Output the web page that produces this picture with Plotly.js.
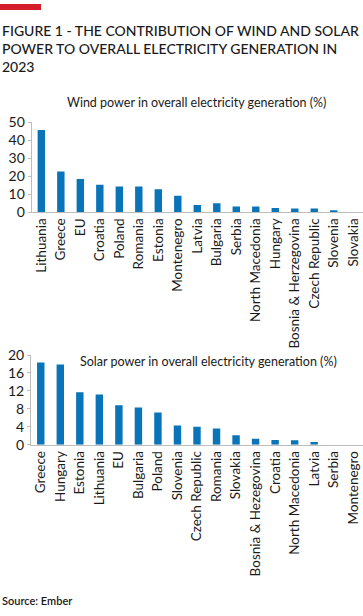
<!DOCTYPE html>
<html>
<head>
<meta charset="utf-8">
<script src="https://cdn.plot.ly/plotly-3.0.1.min.js"></script>
<style>
html,body{margin:0;padding:0;background:#fff;}
#chart{width:363px;height:616px;}
</style>
</head>
<body>
<div id="chart"></div>
<script>
const windCountries = ["Lithuania","Greece","EU","Croatia","Poland","Romania","Estonia","Montenegro","Latvia","Bulgaria","Serbia","North Macedonia","Hungary","Bosnia & Herzegovina","Czech Republic","Slovenia","Slovakia"];
const windValues = [45.5, 22.5, 18.4, 15.2, 14.2, 14.2, 12.6, 9.0, 3.9, 4.8, 3.1, 3.1, 2.2, 1.9, 1.9, 1.0, 0];
const windTicks = [0, 10, 20, 30, 40, 50];

const solarCountries = ["Greece","Hungary","Estonia","Lithuania","EU","Bulgaria","Poland","Slovenia","Czech Republic","Romania","Slovakia","Bosnia & Hezegovina","Croatia","North Macedonia","Latvia","Serbia","Montenegro"];
const solarValues = [18.3, 17.9, 11.7, 11.2, 8.8, 8.3, 7.2, 4.3, 4.0, 3.6, 2.1, 1.3, 1.05, 1.0, 0.6, 0, 0];
const solarTicks = [0, 4, 8, 12, 16, 20];

const W = 363, H = 616;
const px = x => x / W;
const py = y => 1 - y / H;
const FONT = "Lato, 'Open Sans', sans-serif";
const BAR = "#0a74b8";
const AX = "#bdbdbd";

const traces = [
  {type:"bar", x: windCountries, y: windValues, xaxis:"x", yaxis:"y", marker:{color:BAR}, hoverinfo:"x+y"},
  {type:"bar", x: solarCountries, y: solarValues, xaxis:"x2", yaxis:"y2", marker:{color:BAR}, hoverinfo:"x+y"}
];

const xCommon = {
  showgrid:false, zeroline:false, showline:true, linecolor:AX, linewidth:1,
  ticks:"", tickangle:-90, tickfont:{family:FONT, size:13.5, color:"#1a1a1a"},
  automargin:false, fixedrange:true
};
const yCommon = {
  showgrid:false, zeroline:false, showline:true, linecolor:AX, linewidth:1,
  ticks:"outside", ticklen:3, tickcolor:AX, tickfont:{family:FONT, size:14, color:"#1a1a1a"},
  automargin:false, fixedrange:true
};

const layout = {
  width: W, height: H,
  margin:{l:0, r:0, t:0, b:0},
  paper_bgcolor:"#fff", plot_bgcolor:"#fff",
  showlegend:false,
  bargap:0.62,
  font:{family:FONT, color:"#1a1a1a"},
  xaxis: Object.assign({}, xCommon, {domain:[px(31.6), px(363)], anchor:"y"}),
  yaxis: Object.assign({}, yCommon, {domain:[py(212), py(122)], range:[0,50], tickvals:windTicks, anchor:"x"}),
  xaxis2: Object.assign({}, xCommon, {domain:[px(31), px(363)], anchor:"y2"}),
  yaxis2: Object.assign({}, yCommon, {domain:[py(444.7), py(355)], range:[0,20], tickvals:solarTicks, anchor:"x2"}),
  shapes:[
    {type:"rect", xref:"paper", yref:"paper", x0:0, x1:px(41), y0:py(10), y1:py(4), fillcolor:"#d41f2b", line:{width:0}}
  ],
  annotations:[
    {xref:"paper", yref:"paper", x:0, y:py(20), xanchor:"left", yanchor:"top", align:"left", showarrow:false,
     text:"FIGURE 1 - THE CONTRIBUTION OF WIND AND SOLAR<br>POWER TO OVERALL ELECTRICITY GENERATION IN<br>2023",
     font:{family:FONT, size:14, color:"#1a1a1a", weight:500}},
    {xref:"paper", yref:"paper", x:px(196.5), y:py(103), xanchor:"center", yanchor:"middle", showarrow:false,
     text:"Wind power in overall electricity generation (%)", font:{family:FONT, size:12.5, color:"#1a1a1a"}},
    {xref:"paper", yref:"paper", x:px(208), y:py(361), xanchor:"center", yanchor:"middle", showarrow:false,
     text:"Solar power in overall electricity generation (%)", font:{family:FONT, size:12.5, color:"#1a1a1a"}},
    {xref:"paper", yref:"paper", x:0, y:py(600), xanchor:"left", yanchor:"middle", showarrow:false,
     text:"Source: Ember", font:{family:FONT, size:11, color:"#1a1a1a", weight:600}}
  ]
};

Plotly.newPlot("chart", traces, layout, {displayModeBar:false, staticPlot:true});
</script>
</body>
</html>
